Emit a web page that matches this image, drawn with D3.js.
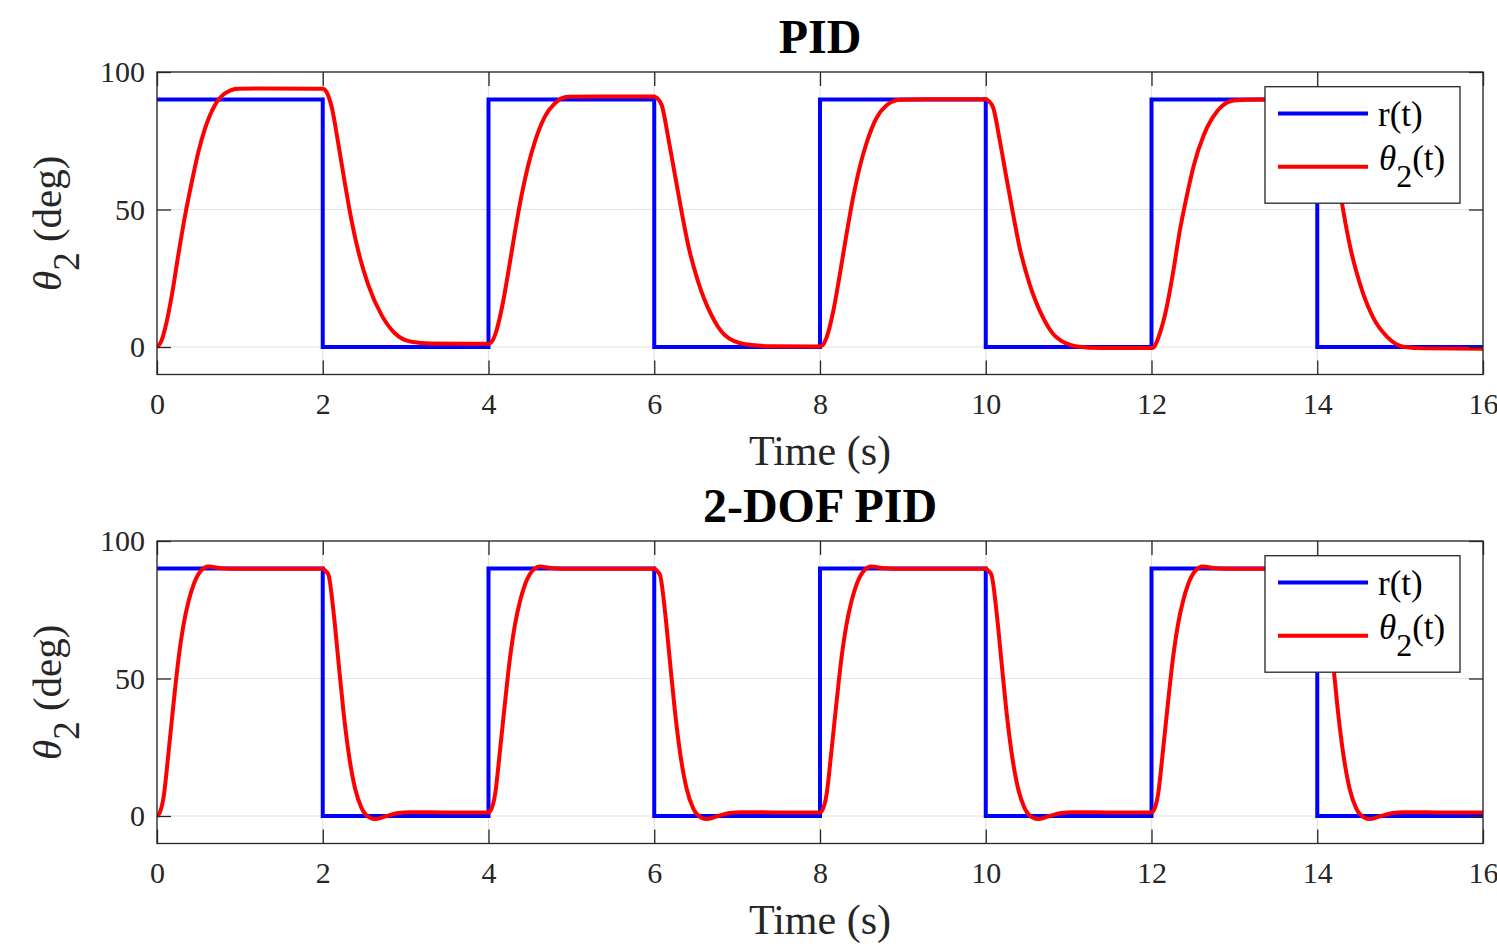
<!DOCTYPE html>
<html>
<head>
<meta charset="utf-8">
<script src="https://cdn.jsdelivr.net/npm/d3@7"></script>
<style>
  body { margin: 0; background: #fff; }
  text { font-family: "Liberation Serif", "Times New Roman", serif; fill: #262626; }
</style>
</head>
<body>
<script>
// chart values
var timeTicks = [0, 2, 4, 6, 8, 10, 12, 14, 16];
var angleTicks = [0, 50, 100];

// reference square wave r(t)
var refTimes = [0, 2, 4, 6, 8, 10, 12, 14, 16];
var refValues = [90, 0, 90, 0, 90, 0, 90, 0, 0];

// PID response theta2(t)
var pidTime = [
  0, 0.05, 0.1, 0.18, 0.26, 0.34, 0.42, 0.5, 0.58, 0.7, 0.82, 0.98, 1.3, 2.0,
  2.03, 2.11, 2.19, 2.27, 2.35, 2.43, 2.55, 2.71, 2.87, 3.07, 3.3, 4.0,
  4.03, 4.08, 4.16, 4.24, 4.32, 4.40, 4.48, 4.56, 4.68, 4.80, 4.96, 5.3, 6.0,
  6.03, 6.09, 6.17, 6.25, 6.33, 6.41, 6.53, 6.69, 6.85, 7.1, 7.4, 8.0,
  8.03, 8.08, 8.16, 8.24, 8.32, 8.40, 8.48, 8.56, 8.68, 8.80, 8.96, 9.3, 10.0,
  10.03, 10.09, 10.17, 10.25, 10.33, 10.41, 10.53, 10.69, 10.85, 11.1, 11.4, 12.0,
  12.03, 12.08, 12.18, 12.26, 12.34, 12.43, 12.51, 12.63, 12.79, 12.99, 13.3, 14.0,
  14.03, 14.09, 14.17, 14.25, 14.30, 14.40, 14.52, 14.68, 14.84, 15.04, 15.3, 16.0
];
var pidTheta = [
  0, 2, 7, 19, 34, 48, 60, 71, 79.5, 88, 92.2, 93.9, 94, 93.9,
  93.4, 87, 73.5, 59, 45.6, 34.7, 22.5, 11.6, 5, 1.9, 1.3, 1.2,
  1.6, 4.4, 14, 27.4, 42, 55.3, 66.2, 74.7, 83.8, 88.6, 91, 91.1, 91.1,
  90.6, 88, 75.9, 62.5, 49.2, 37, 23.7, 11.6, 4.4, 1, 0.3, 0.2,
  0.6, 3.5, 13, 26.5, 41, 54.5, 65.5, 74, 83.2, 87.8, 89.9, 90.1, 90.1,
  89.6, 87, 75, 61.5, 48.3, 36, 22.8, 10.8, 3.6, 0.2, -0.4, -0.4,
  0, 3.2, 14, 27, 42, 55.5, 66, 77, 85.6, 89.6, 90, 90,
  89.5, 87, 75, 61.5, 52, 36, 22.5, 10.4, 3.8, 0.1, -0.5, -0.6
];

// 2-DOF PID response theta2(t)
var dofTime = [
  0, 0.03, 0.08, 0.14, 0.2, 0.26, 0.32, 0.38, 0.44, 0.52, 0.62, 0.78, 1.0, 2.0,
  2.03, 2.07, 2.13, 2.19, 2.25, 2.31, 2.39, 2.47, 2.57, 2.63, 2.75, 2.91, 3.05, 3.5, 4.0,
  4.03, 4.08, 4.14, 4.2, 4.26, 4.32, 4.38, 4.44, 4.52, 4.62, 4.78, 5.0, 6.0,
  6.03, 6.07, 6.13, 6.19, 6.25, 6.31, 6.39, 6.47, 6.57, 6.63, 6.75, 6.91, 7.05, 7.5, 8.0,
  8.03, 8.08, 8.14, 8.2, 8.26, 8.32, 8.38, 8.44, 8.52, 8.62, 8.78, 9.0, 10.0,
  10.03, 10.07, 10.13, 10.19, 10.25, 10.31, 10.39, 10.47, 10.57, 10.63, 10.75, 10.91, 11.05, 11.5, 12.0,
  12.03, 12.08, 12.14, 12.2, 12.26, 12.32, 12.38, 12.44, 12.52, 12.62, 12.78, 13.0, 14.0,
  14.03, 14.07, 14.13, 14.19, 14.25, 14.31, 14.39, 14.47, 14.57, 14.63, 14.75, 14.91, 15.05, 15.5, 16.0
];
var dofTheta = [
  0, 1, 7, 23.4, 41, 57.3, 69.5, 78, 84, 88.8, 90.7, 90.1, 89.9, 89.9,
  89.2, 87.6, 74.3, 56, 38, 23.4, 10, 2.8, -0.6, -1.1, -0.2, 1.1, 1.4, 1.3, 1.3,
  2.2, 8, 24.2, 41.5, 57.6, 69.7, 78.1, 84.1, 88.8, 90.7, 90.1, 89.9, 89.9,
  89.2, 87.6, 74.3, 56, 38, 23.4, 10, 2.8, -0.6, -1.1, -0.2, 1.1, 1.4, 1.3, 1.3,
  2.2, 8, 24.2, 41.5, 57.6, 69.7, 78.1, 84.1, 88.8, 90.7, 90.1, 89.9, 89.9,
  89.2, 87.6, 74.3, 56, 38, 23.4, 10, 2.8, -0.6, -1.1, -0.2, 1.1, 1.4, 1.3, 1.3,
  2.2, 8, 24.2, 41.5, 57.6, 69.7, 78.1, 84.1, 88.8, 90.7, 90.1, 89.9, 89.9,
  89.2, 87.6, 74.3, 56, 38, 23.4, 10, 2.8, -0.6, -1.1, -0.2, 1.1, 1.4, 1.3, 1.3
];

var width = 1497, height = 946;
var left = 157, right = 1483;
var axisColor = "#262626";

var svg = d3.select("body").append("svg")
    .attr("width", width)
    .attr("height", height);

var x = d3.scaleLinear().domain([0, 16]).range([left, right]);

function drawPanel(top, title, thetaT, thetaV, clipId) {
  var bottom = top + 302.5;
  var y = d3.scaleLinear().domain([-10, 100]).range([bottom, top]);
  var g = svg.append("g");

  // grid
  g.selectAll(".gx").data(timeTicks).enter().append("line")
    .attr("x1", d => x(d)).attr("x2", d => x(d))
    .attr("y1", top).attr("y2", bottom)
    .attr("stroke", "#e3e3e3").attr("stroke-width", 1.2);
  g.selectAll(".gy").data(angleTicks).enter().append("line")
    .attr("x1", left).attr("x2", right)
    .attr("y1", d => y(d)).attr("y2", d => y(d))
    .attr("stroke", "#e3e3e3").attr("stroke-width", 1.2);

  // clip to plot box
  svg.append("clipPath").attr("id", clipId).append("rect")
    .attr("x", left).attr("y", top).attr("width", right - left).attr("height", bottom - top);

  var lines = g.append("g").attr("clip-path", "url(#" + clipId + ")");

  var refLine = d3.line()
    .x(function(d, i) { return x(refTimes[i]); })
    .y(function(d) { return y(d); })
    .curve(d3.curveStepAfter);
  lines.append("path")
    .attr("d", refLine(refValues))
    .attr("fill", "none").attr("stroke", "#0000ff").attr("stroke-width", 4);

  var thetaLine = d3.line()
    .x(function(d, i) { return x(thetaT[i]); })
    .y(function(d) { return y(d); })
    .curve(d3.curveMonotoneX);
  lines.append("path")
    .attr("d", thetaLine(thetaV))
    .attr("fill", "none").attr("stroke", "#ff0000").attr("stroke-width", 4)
    .attr("stroke-linejoin", "round");

  // axes with inward ticks (box style)
  var xb = g.append("g").attr("transform", "translate(0," + bottom + ")")
    .call(d3.axisBottom(x).tickValues(timeTicks).tickSizeInner(-14).tickSizeOuter(0).tickPadding(18));
  var yl = g.append("g").attr("transform", "translate(" + left + ",0)")
    .call(d3.axisLeft(y).tickValues(angleTicks).tickSizeInner(-14).tickSizeOuter(0).tickPadding(12));
  var xt = g.append("g").attr("transform", "translate(0," + top + ")")
    .call(d3.axisTop(x).tickValues(timeTicks).tickSizeInner(-14).tickSizeOuter(0).tickFormat(""));
  var yr = g.append("g").attr("transform", "translate(" + right + ",0)")
    .call(d3.axisRight(y).tickValues(angleTicks).tickSizeInner(-14).tickSizeOuter(0).tickFormat(""));

  [xb, yl, xt, yr].forEach(function(a) {
    a.attr("font-family", "Liberation Serif").attr("font-size", 30);
    a.select(".domain").remove();
    a.selectAll("line").attr("stroke", axisColor).attr("stroke-width", 1.3);
    a.selectAll("text").attr("fill", axisColor);
  });

  g.append("rect")
    .attr("x", left).attr("y", top).attr("width", right - left).attr("height", bottom - top)
    .attr("fill", "none").attr("stroke", axisColor).attr("stroke-width", 1.3);

  // title
  g.append("text")
    .attr("x", (left + right) / 2).attr("y", top - 19)
    .attr("text-anchor", "middle")
    .style("font-size", "48px").style("font-weight", "bold").style("fill", "#000")
    .text(title);

  // x label
  g.append("text")
    .attr("x", (left + right) / 2).attr("y", bottom + 90)
    .attr("text-anchor", "middle")
    .style("font-size", "42px")
    .text("Time (s)");

  // y label
  var yt = g.append("text")
    .attr("transform", "translate(61," + ((top + bottom) / 2) + ") rotate(-90)")
    .attr("text-anchor", "middle")
    .style("font-size", "41px");
  yt.append("tspan").style("font-style", "italic").text("\u03B8");
  yt.append("tspan").attr("dy", 18).style("font-size", "37px").text("2");
  yt.append("tspan").attr("dy", -18).text("\u00A0(deg)");

  // legend
  var lg = g.append("g").attr("transform", "translate(1265," + (top + 14.7) + ")");
  lg.append("rect").attr("width", 195).attr("height", 116.5)
    .attr("fill", "#fff").attr("stroke", axisColor).attr("stroke-width", 1.3);
  lg.append("line").attr("x1", 13).attr("x2", 103).attr("y1", 26.7).attr("y2", 26.7)
    .attr("stroke", "#0000ff").attr("stroke-width", 4);
  lg.append("line").attr("x1", 13).attr("x2", 103).attr("y1", 80).attr("y2", 80)
    .attr("stroke", "#ff0000").attr("stroke-width", 4);
  lg.append("text").attr("x", 113).attr("y", 39).style("font-size", "35px").style("fill", "#000").text("r(t)");
  var lt = lg.append("text").attr("x", 114).attr("y", 83).style("font-size", "35px").style("fill", "#000");
  lt.append("tspan").style("font-style", "italic").text("\u03B8");
  lt.append("tspan").attr("dy", 17).style("font-size", "32px").text("2");
  lt.append("tspan").attr("dy", -17).text("(t)");
}

drawPanel(72, "PID", pidTime, pidTheta, "clipTop");
drawPanel(541, "2-DOF PID", dofTime, dofTheta, "clipBottom");
</script>
</body>
</html>
